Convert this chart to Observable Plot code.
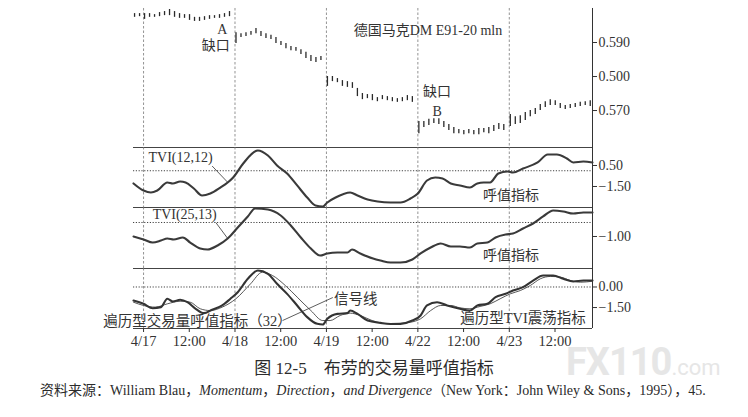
<!DOCTYPE html>
<html>
<head>
<meta charset="utf-8">
<script src="https://cdn.jsdelivr.net/npm/d3@7"></script>
<script src="https://cdn.jsdelivr.net/npm/@observablehq/plot@0.6"></script>
<style>
  body { margin: 0; background: #fff; }
  #chart { position: relative; width: 748px; height: 417px; overflow: hidden;
           font-family: "Liberation Serif", "Noto Sans CJK SC", serif; color: #2b2b2b; }
  #chart svg { position: absolute; left: 0; }
  .caption { position: absolute; left: 0; width: 748px; top: 354px; text-align: center; font-size: 17px; }
  .source { position: absolute; left: 40px; top: 379px; font-size: 14px; white-space: nowrap; }
  .mark { position: absolute; left: 566px; top: 344px; line-height: 36px; color: #e6e6e6; font-family: Roboto, sans-serif;
          font-weight: 700; font-size: 38px; letter-spacing: -1px; }
  .mark span { font-size: 22px; font-weight: 400; letter-spacing: 0; }
</style>
</head>
<body>
<div id="chart"></div>
<script>
// time axis: trading days, 4/17 = 0
const days = [0, 1, 2, 3, 4];
const xTicks = [0, 0.5, 1, 1.5, 2, 2.5, 3, 3.5, 4, 4.5];
const xTickLabels = ["4/17", "12:00", "4/18", "12:00", "4/19", "12:00", "4/22", "12:00", "4/23", "12:00"];
const xDomain = [-0.11, 4.91];

// price bars [low, high], one array per day (first one starts two bars before 4/17)
const bars0417 = [[.5974,.5985],[.5976,.5985],[.5968,.5985],[.5974,.5985],[.5974,.5982],[.5976,.5988],[.5979,.5991],[.5979,.5997],[.5974,.5991],[.5971,.5985],
                  [.5971,.5982],[.5965,.5982],[.5962,.5974],[.5962,.5974],[.5965,.5976],[.5968,.5979],[.5971,.5979],[.5971,.5982],[.5974,.5985],[.5976,.5991]];
const bars0418 = [[.5897,.5929],[.5915,.5926],[.5918,.5929],[.5921,.5932],[.5926,.5941],[.5918,.5932],[.5912,.5926],[.5909,.5921],[.5897,.5915],
                  [.5891,.5903],[.5882,.5897],[.5876,.5888],[.5874,.5885],[.5865,.5879],[.5853,.5871],[.5844,.5862],[.5841,.5856],[.5847,.5859]];
const bars0419 = [[.5771,.5800],[.5785,.5800],[.5782,.5794],[.5771,.5788],[.5768,.5785],[.5765,.5782],[.5741,.5765],[.5732,.5750],[.5735,.5747],
                  [.5729,.5747],[.5726,.5738],[.5732,.5744],[.5729,.5741],[.5726,.5738],[.5724,.5735],[.5726,.5738],[.5729,.5744],[.5724,.5741]];
const bars0422 = [[.5632,.5668],[.5650,.5668],[.5656,.5674],[.5662,.5676],[.5659,.5676],[.5650,.5668],[.5641,.5659],[.5632,.5650],[.5632,.5644],
                  [.5629,.5641],[.5632,.5644],[.5629,.5641],[.5629,.5647],[.5635,.5647],[.5632,.5650],[.5638,.5656],[.5644,.5662],[.5641,.5659]];
const bars0423 = [[.5653,.5688],[.5659,.5682],[.5662,.5685],[.5671,.5694],[.5682,.5700],[.5688,.5706],[.5700,.5718],[.5709,.5726],[.5715,.5732],
                  [.5715,.5729],[.5706,.5721],[.5703,.5715],[.5706,.5718],[.5709,.5721],[.5712,.5724],[.5715,.5726],[.5712,.5729]];
const priceDays = [bars0417, bars0418, bars0419, bars0422, bars0423];
const firstBar = [-1.8, 0.2, 0.2, 0.2, 0.2];
const barsPerDay = 18.3;
const priceTicks = [0.59, 0.58, 0.57];
const priceTickLabels = ["0.590", "0.500", "0.570"];

// indicator curves [t, value]
const tvi12 = [[-0.11,-1.21],[0,-1.88],[0.08,-2.07],[0.15,-1.88],[0.26,-1.12],[0.32,-1.21],[0.40,-1.02],[0.46,-1.12],[0.55,-1.69],[0.64,-2.36],
  [0.73,-2.17],[0.84,-1.60],[0.92,-1.12],[0.98,-0.64],[1.09,0.69],[1.25,1.93],[1.36,1.45],[1.46,0.50],[1.57,-0.26],[1.68,-1.40],[1.79,-2.55],
  [1.88,-3.31],[1.96,-3.40],[2.01,-3.02],[2.10,-2.55],[2.26,-2.07],[2.34,-2.36],[2.45,-2.74],[2.56,-2.93],[2.70,-3.02],[2.81,-3.02],[2.92,-2.64],
  [3.00,-2.17],[3.10,-0.93],[3.19,-0.64],[3.27,-0.74],[3.36,-1.21],[3.46,-1.40],[3.57,-1.60],[3.65,-1.21],[3.72,-1.12],[3.79,-1.12],[3.88,-0.26],
  [3.98,-0.07],[4.04,-0.17],[4.15,0.21],[4.31,0.79],[4.42,1.55],[4.52,1.55],[4.63,1.17],[4.70,0.79],[4.81,0.88],[4.91,0.79]];
const tvi25 = [[-0.11,-1.0],[0,-1.21],[0.10,-1.43],[0.19,-1.29],[0.26,-1.14],[0.33,-1.21],[0.43,-1.07],[0.51,-1.43],[0.62,-1.86],[0.70,-1.93],
  [0.81,-1.64],[0.92,-1.14],[1.03,-0.36],[1.14,0.43],[1.22,1.0],[1.36,0.93],[1.50,0.5],[1.61,-0.21],[1.72,-1.07],[1.83,-1.86],[1.93,-2.36],
  [2.01,-2.21],[2.12,-2.14],[2.23,-2.14],[2.28,-1.93],[2.37,-2.21],[2.51,-2.57],[2.59,-2.71],[2.70,-2.86],[2.81,-2.86],[2.94,-2.64],[3.03,-2.21],
  [3.14,-1.79],[3.25,-1.50],[3.36,-1.71],[3.46,-1.71],[3.57,-1.79],[3.65,-1.50],[3.76,-1.43],[3.85,-1.07],[3.96,-0.86],[4.04,-0.79],[4.15,-0.43],
  [4.26,-0.07],[4.37,0.43],[4.48,0.86],[4.59,0.79],[4.70,0.64],[4.81,0.71],[4.91,0.71]];
const ergodic = [[-0.11,-0.99],[0,-1.23],[0.10,-1.55],[0.19,-1.47],[0.26,-0.86],[0.32,-1.06],[0.40,-0.93],[0.48,-1.11],[0.57,-1.59],[0.66,-1.91],
  [0.75,-1.66],[0.86,-1.35],[0.95,-0.86],[1.03,-0.38],[1.14,0.60],[1.25,1.20],[1.36,0.96],[1.46,0.23],[1.57,-0.50],[1.68,-1.35],[1.79,-2.20],
  [1.90,-2.69],[1.96,-2.74],[2.01,-2.32],[2.12,-1.96],[2.23,-1.91],[2.26,-1.72],[2.34,-1.96],[2.45,-2.45],[2.59,-2.62],[2.70,-2.70],[2.81,-2.69],
  [2.94,-2.45],[3.03,-2.08],[3.10,-1.35],[3.21,-1.11],[3.32,-1.35],[3.46,-1.59],[3.57,-1.72],[3.65,-1.35],[3.76,-1.23],[3.85,-0.74],[3.96,-0.50],
  [4.04,-0.26],[4.15,-0.01],[4.26,0.47],[4.37,0.84],[4.48,0.84],[4.59,0.60],[4.70,0.40],[4.81,0.47],[4.91,0.47]];
const signal = [[-0.11,-1.11],[0,-1.35],[0.13,-1.47],[0.26,-1.23],[0.40,-1.04],[0.51,-1.11],[0.62,-1.59],[0.73,-1.72],[0.86,-1.47],[1.01,-0.86],
  [1.17,0.23],[1.30,1.08],[1.41,0.84],[1.55,0.11],[1.68,-0.74],[1.83,-1.72],[1.96,-2.45],[2.04,-2.45],[2.15,-2.08],[2.26,-1.91],[2.37,-2.08],
  [2.50,-2.45],[2.70,-2.69],[2.92,-2.57],[3.03,-2.32],[3.14,-1.72],[3.25,-1.35],[3.36,-1.35],[3.46,-1.52],[3.57,-1.59],[3.68,-1.42],[3.79,-1.23],
  [3.90,-0.86],[4.01,-0.50],[4.12,-0.26],[4.23,0.11],[4.34,0.60],[4.45,0.77],[4.56,0.72],[4.67,0.47],[4.78,0.35],[4.91,0.42]];

// annotations
const priceNotes = [
  {t: 3.11, v: 0.5935, text: "德国马克DM E91-20 mln"},
  {t: 0.86, v: 0.5938, text: "A"},
  {t: 0.79, v: 0.5891, text: "缺口"},
  {t: 3.21, v: 0.5756, text: "缺口"},
  {t: 3.21, v: 0.5697, text: "B"}
];

const bars = priceDays.flatMap((seg, d) =>
  seg.map(([lo, hi], i) => ({t: d + (i + firstBar[d]) / barsPerDay, lo, hi})));

const ink = "#333";
const serif = "Liberation Serif, Noto Sans CJK SC, serif";
const chart = document.getElementById("chart");

function yAxis(ticks, labels) {
  return Plot.axisY({ticks, anchor: "right", tickSize: 4, tickPadding: 2, label: null,
    tickFormat: d => labels[ticks.indexOf(d)], fontSize: 14, fontFamily: serif, color: ink});
}

function panel(top, height, yDomain, marks, opts = {}) {
  const svg = Plot.plot({
    width: 748, height,
    marginLeft: 133, marginRight: 156,
    marginTop: opts.marginTop ?? 10, marginBottom: opts.marginBottom ?? 10,
    x: opts.xAxis ? {domain: xDomain} : {domain: xDomain, axis: null},
    y: {domain: yDomain},
    style: {background: "transparent", overflow: "visible", fontFamily: serif, color: ink},
    marks
  });
  svg.style.top = top + "px";
  chart.append(svg);
}

const dayLines = () => Plot.ruleX(days, {stroke: "#777", strokeWidth: 0.8, strokeDasharray: "2.5,2"});
const rightLine = () => Plot.ruleX([xDomain[1]], {stroke: ink, strokeWidth: 1});
const zeroLine = Plot.ruleY([0], {stroke: "#444", strokeWidth: 1, strokeDasharray: "1.2,1.6"});

// price panel
panel(0, 157, [0.55913, 0.60235], [
  Plot.ruleX(days, {y1: 0.6, y2: 0.55913, stroke: "#777", strokeWidth: 0.8, strokeDasharray: "2.5,2"}),
  Plot.ruleX([xDomain[1]], {y1: 0.6, y2: 0.55913, stroke: ink}),
  Plot.ruleX(bars, {x: "t", y1: "lo", y2: "hi", stroke: "#2a2a2a", strokeWidth: 1.3}),
  Plot.text(priceNotes, {x: "t", y: "v", text: "text", fontSize: 14, fill: ink}),
  yAxis(priceTicks, priceTickLabels)
], {marginTop: 0});

// TVI(12,12)
panel(137, 80, [-3.5, 2.214], [
  Plot.ruleY([2.214], {stroke: "#444"}),
  dayLines(), rightLine(), zeroLine,
  Plot.line(tvi12, {x: d => d[0], y: d => d[1], stroke: "#3a3a3a", strokeWidth: 2.1, curve: "monotone-x"}),
  Plot.link([{t1: 0.75, v1: 0.45, t2: 0.92, v2: -1.1}], {x1: "t1", y1: "v1", x2: "t2", y2: "v2", stroke: ink, strokeWidth: 0.8}),
  Plot.text([{t: 0.405, v: 1.26, text: "TVI(12,12)"}, {t: 4.02, v: -2.36, text: "呼值指标"}],
    {x: "t", y: "v", text: "text", fontSize: 14, fill: ink}),
  yAxis([0.5, -1.5], ["0.50", "−1.50"])
]);

// TVI(25,13)
panel(197, 81, [-3.286, 1.071], [
  Plot.ruleY([1.071], {stroke: "#444"}),
  dayLines(), rightLine(), zeroLine,
  Plot.line(tvi25, {x: d => d[0], y: d => d[1], stroke: "#3a3a3a", strokeWidth: 2.1, curve: "monotone-x"}),
  Plot.link([{t1: 0.79, v1: 0, t2: 0.92, v2: -1.14}], {x1: "t1", y1: "v1", x2: "t2", y2: "v2", stroke: ink, strokeWidth: 0.8}),
  Plot.text([{t: 0.45, v: 0.57, text: "TVI(25,13)"}, {t: 4.02, v: -2.36, text: "呼值指标"}],
    {x: "t", y: "v", text: "text", fontSize: 14, fill: ink}),
  yAxis([-1], ["−1.00"])
]);

// ergodic oscillator + signal line
panel(258, 100, [-3.03, 1.35], [
  Plot.ruleY([1.35, -3.03], {stroke: "#444"}),
  dayLines(), rightLine(), zeroLine,
  Plot.line(signal, {x: d => d[0], y: d => d[1], stroke: "#444", strokeWidth: 0.9, curve: "monotone-x"}),
  Plot.line(ergodic, {x: d => d[0], y: d => d[1], stroke: "#333", strokeWidth: 2.1, curve: "monotone-x"}),
  Plot.link([{t1: 2.07, v1: -0.77, t2: 1.52, v2: -2.45}], {x1: "t1", y1: "v1", x2: "t2", y2: "v2", stroke: ink, strokeWidth: 0.8}),
  Plot.text([{t: 2.32, v: -0.91, text: "信号线"}, {t: 4.15, v: -2.3, text: "遍历型TVI震荡指标"}],
    {x: "t", y: "v", text: "text", fontSize: 14.5, fill: ink}),
  Plot.text([{t: 1.62, v: -2.52, text: "遍历型交易量呼值指标（32）"}],
    {x: "t", y: "v", text: "text", fontSize: 14.5, fill: ink, textAnchor: "end"}),
  yAxis([0, -1.5], ["0.00", "−1.50"]),
  Plot.axisX({ticks: xTicks, tickFormat: d => xTickLabels[xTicks.indexOf(d)], tickSize: 4, tickPadding: 3,
    label: null, fontSize: 14.5, fontFamily: serif, color: ink})
], {marginBottom: 30, xAxis: true});

chart.insertAdjacentHTML("beforeend",
  `<div class="caption">图 12-5&emsp;布劳的交易量呼值指标</div>
   <div class="source">资料来源：William Blau，<i>Momentum</i>，<i>Direction</i>，<i>and Divergence</i>（New York：John Wiley &amp; Sons，1995），45.</div>
   <div class="mark">FX110<span>.com</span></div>`);
</script>
</body>
</html>
